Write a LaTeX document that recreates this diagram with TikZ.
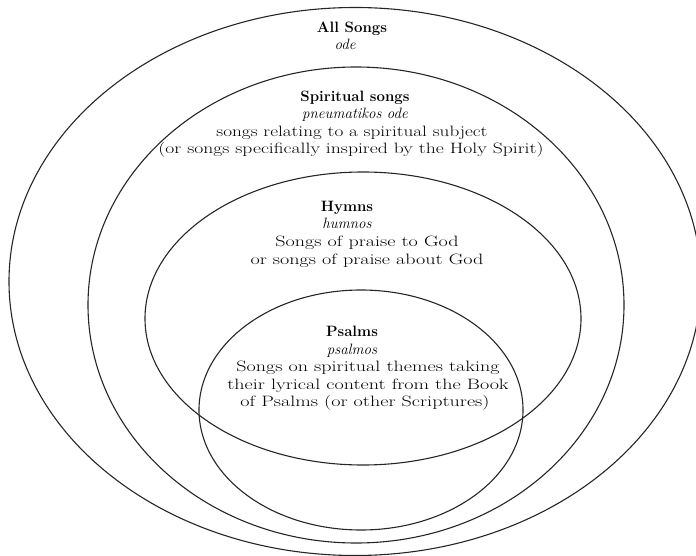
\documentclass[tikz,border=0pt]{standalone}
\newcommand{\wl}[1]{\scalebox{1.34}[1]{#1}}
\begin{document}
\begin{tikzpicture}[x=1pt,y=-1pt,
  ring/.style={line width=1.1pt,black!85},
  base/.style={anchor=base,inner sep=0pt,font=\fontsize{15}{17.5}\selectfont},
  ttl/.style={base,font=\fontsize{15}{17.5}\selectfont\bfseries},
  gk/.style={base,font=\fontsize{15}{17.5}\selectfont\itshape},
  txt/.style={base}]
\useasboundingbox (0,0) rectangle (696,556);
\begin{scope}
\clip (0,0) rectangle (696,556);
\draw[ring] (355,281.5) ellipse [x radius=346pt, y radius=274pt];
\draw[ring] (356,305) ellipse [x radius=268pt, y radius=238pt];
\draw[ring] (363,318.5) ellipse [x radius=218pt, y radius=146.5pt];
\draw[ring] (361,410) ellipse [x radius=162pt, y radius=120pt];
\end{scope}
% All songs
\node[ttl] (all) at (352,32.5) {All Songs};
\node[gk] (allG) at (345,50) {ode};
% Spiritual songs
\node[ttl] (sp) at (355,101.5) {Spiritual songs};
\node[gk] (spG) at (355,119) {pneumatikos ode};
\node[txt] (sp1) at (352,136.5) {\scalebox{1.28}[1]{songs relating to a spiritual subject}};
\node[txt] (sp2) at (351,154) {\scalebox{1.31}[1]{(or songs specifically inspired by the Holy Spirit)}};
% Hymns
\node[ttl] (hy) at (347,211.5) {Hymns};
\node[gk] (hyG) at (347,229) {humnos};
\node[txt] (hy1) at (367,246.5) {\wl{Songs of praise to God}};
\node[txt] (hy2) at (367,264) {\wl{or songs of praise about God}};
% Psalms
\node[ttl] (ps) at (352,336.5) {Psalms};
\node[gk] (psG) at (352,354) {psalmos};
\node[txt] (ps1) at (368,371.5) {\wl{Songs on spiritual themes taking}};
\node[txt] (ps2) at (368,389) {\wl{their lyrical content from the Book}};
\node[txt] (ps3) at (365,406.5) {\wl{of Psalms (or other Scriptures)}};
\end{tikzpicture}
\end{document}
